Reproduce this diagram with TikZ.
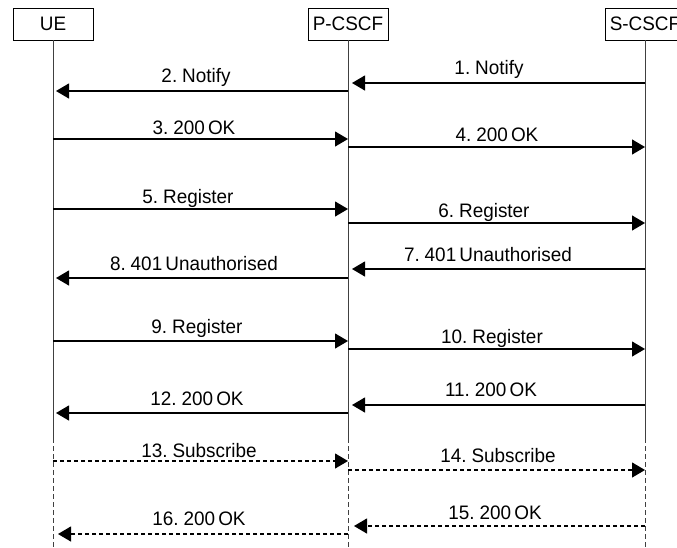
\documentclass[tikz,border=0pt]{standalone}
\usepackage{fontspec}
\setmainfont[FakeStretch=0.97,WordSpace=0.6]{Liberation Sans}
\usetikzlibrary{arrows.meta}
\begin{document}
\begin{tikzpicture}[x=1pt,y=-1pt,
  txt/.style={font=\fontsize{19.5}{21}\selectfont},
  lbl/.style={txt,anchor=base,inner sep=0pt},
  actor/.style={txt,draw,line width=0.9pt,minimum width=80pt,minimum height=32pt,inner sep=0pt},
  life/.style={line width=1pt,draw=black!75},
  dlife/.style={life,dash pattern=on 5pt off 3pt},
  msg/.style={line width=1.2pt,-{Triangle[length=13pt,width=15pt]}},
  dmsg/.style={msg,dash pattern=on 4pt off 3pt}]
\clip (0,0) rectangle (677,547);
\fill[white] (0,0) rectangle (677,547);
% actors
\node[actor] (ue) at (53,24) {UE};
\node[actor] (pc) at (348,24) {P-CSCF};
\node[actor] (sc) at (645,24) {S-CSCF};
% lifelines
\coordinate (uem) at (53,438);  \coordinate (uee) at (53,547);
\coordinate (pcm) at (348,438); \coordinate (pce) at (348,547);
\coordinate (scm) at (645,438); \coordinate (sce) at (645,547);
\draw[life] (ue.south) -- (uem);
\draw[life] (pc.south) -- (pcm);
\draw[life] (sc.south) -- (scm);
\draw[dlife] (uem) -- (uee);
\draw[dlife] (pcm) -- (pce);
\draw[dlife] (scm) -- (sce);
% message end points
\coordinate (a1) at (645,83);  \coordinate (b1) at (352,83);
\coordinate (a2) at (348,91);  \coordinate (b2) at (56,91);
\coordinate (a3) at (53,139);  \coordinate (b3) at (348,139);
\coordinate (a4) at (348,147); \coordinate (b4) at (645,147);
\coordinate (a5) at (53,209);  \coordinate (b5) at (348,209);
\coordinate (a6) at (348,223); \coordinate (b6) at (645,223);
\coordinate (a7) at (645,269); \coordinate (b7) at (352,269);
\coordinate (a8) at (348,278); \coordinate (b8) at (56,278);
\coordinate (a9) at (53,341);  \coordinate (b9) at (348,341);
\coordinate (a10) at (348,349); \coordinate (b10) at (645,349);
\coordinate (a11) at (645,405); \coordinate (b11) at (352,405);
\coordinate (a12) at (348,413); \coordinate (b12) at (56,413);
\coordinate (a13) at (53,461);  \coordinate (b13) at (348,461);
\coordinate (a14) at (348,470); \coordinate (b14) at (645,470);
\coordinate (a15) at (645,526); \coordinate (b15) at (354,526);
\coordinate (a16) at (348,534); \coordinate (b16) at (58,534);
% messages
\draw[msg] (a1) -- (b1);
\draw[msg] (a2) -- (b2);
\draw[msg] (a3) -- (b3);
\draw[msg] (a4) -- (b4);
\draw[msg] (a5) -- (b5);
\draw[msg] (a6) -- (b6);
\draw[msg] (a7) -- (b7);
\draw[msg] (a8) -- (b8);
\draw[msg] (a9) -- (b9);
\draw[msg] (a10) -- (b10);
\draw[msg] (a11) -- (b11);
\draw[msg] (a12) -- (b12);
\draw[dmsg] (a13) -- (b13);
\draw[dmsg] (a14) -- (b14);
\draw[dmsg] (a15) -- (b15);
\draw[dmsg] (a16) -- (b16);
% labels
\node[lbl] (l1) at (489,74) {1. Notify};
\node[lbl] (l2) at (196,82) {2. Notify};
\node[lbl] (l3) at (194,134) {3. 200 OK};
\node[lbl] (l4) at (497,141) {4. 200 OK};
\node[lbl] (l5) at (188,203) {5. Register};
\node[lbl] (l6) at (484,217) {6. Register};
\node[lbl] (l7) at (488,261) {7. 401 Unauthorised};
\node[lbl] (l8) at (194,270) {8. 401 Unauthorised};
\node[lbl] (l9) at (197,333) {9. Register};
\node[lbl] (l10) at (492,343) {10. Register};
\node[lbl] (l11) at (491,396) {11. 200 OK};
\node[lbl] (l12) at (197,405) {12. 200 OK};
\node[lbl] (l13) at (199,457) {13. Subscribe};
\node[lbl] (l14) at (498,462) {14. Subscribe};
\node[lbl] (l15) at (495,519) {15. 200 OK};
\node[lbl] (l16) at (199,525) {16. 200 OK};
\end{tikzpicture}
\end{document}
